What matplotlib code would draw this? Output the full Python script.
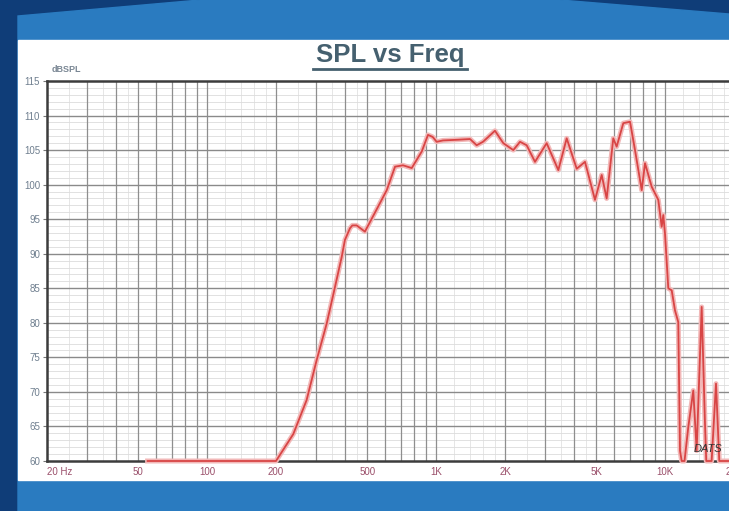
import numpy as np
import matplotlib.pyplot as plt
from matplotlib.patches import Rectangle, Polygon

plt.rcParams['font.family'] = ['Liberation Sans', 'DejaVu Sans']

freq = [55, 200, 238, 272, 301, 333, 362, 387, 400, 421, 431, 450, 489, 558, 609,
        662, 717, 783, 866, 922, 967, 1006, 1072, 1250, 1407, 1504, 1603, 1808,
        1966, 2174, 2326, 2487, 2704, 3041, 3419, 3719, 4113, 4470, 4943, 5288,
        5559, 5941, 6146, 6572, 7030, 7392, 7907, 8174, 8741, 9341, 9667, 9824,
        9994, 10330, 10690, 11050, 11420, 11620, 11820, 12160, 12630, 13280,
        13740, 14450, 14940, 15130, 15970, 16690, 17250, 20000]
spl = [60, 60, 63.9, 68.8, 74.6, 79.9, 85.2, 89.5, 92.0, 93.7, 94.1, 94.1, 93.2,
       96.8, 99.2, 102.6, 102.8, 102.4, 104.8, 107.2, 106.9, 106.2, 106.4, 106.5,
       106.6, 105.7, 106.2, 107.8, 106.0, 105.0, 106.2, 105.7, 103.3, 106.0,
       102.1, 106.7, 102.3, 103.3, 97.8, 101.4, 98.0, 106.7, 105.5, 108.9, 109.1,
       105.0, 99.2, 103.1, 99.7, 97.8, 93.9, 95.6, 92.9, 85.0, 84.7, 81.8, 80.1,
       61.5, 60, 60, 64.9, 70.2, 61.5, 82.3, 65.4, 60, 60, 71.2, 60, 60]

xticks = [20, 50, 100, 200, 500, 1000, 2000, 5000, 10000, 20000]
xlabels = ['20 Hz', '50', '100', '200', '500', '1K', '2K', '5K', '10K', '20K']
yticks = list(range(60, 116, 5))

navy = '#0f3d78'
blue = '#2a7bc0'

fig = plt.figure(figsize=(7.29, 5.11), dpi=100)
fig.patch.set_facecolor(navy)

# background panels in pixel coordinates
bg = fig.add_axes([0, 0, 1, 1])
bg.set_xlim(0, 729)
bg.set_ylim(511, 0)
bg.axis('off')
bg.add_patch(Polygon([(18, 511), (729, 511), (729, 14), (560, 0), (200, 0), (18, 16)],
                     color=blue))
bg.add_patch(Rectangle((18, 40), 711, 440, color='white'))
bg.text(390, 55, 'SPL vs Freq', ha='center', va='center', fontsize=18.5,
        fontweight='bold', color='#45606f')
bg.plot([313, 467], [69, 69], color='#45606f', lw=2)
bg.text(52, 70, 'dBSPL', fontsize=6.5, fontweight='bold', color='#7a8794',
        va='center')

ax = fig.add_axes([47 / 729, 50 / 511, 687 / 729, 380 / 511])
ax.set_xscale('log')
ax.set_xlim(20, 20000)
ax.set_ylim(60, 115)
ax.set_facecolor('white')

# grid: faint fine lines, medium at each multiple, darker at 5 dB
fine = []
mid = []
for dec in [10, 100, 1000, 10000]:
    for k in [1.2, 1.4, 1.6, 1.8, 2.5, 3.5, 4.5]:
        if 20 < k * dec < 20000:
            fine.append(k * dec)
    for k in range(1, 10):
        if 20 < k * dec < 20000:
            mid.append(k * dec)
ax.vlines(fine, 60, 115, color='#e2e2e2', lw=0.6, zorder=0)
ax.vlines(mid, 60, 115, color='#8e8e8e', lw=0.9, zorder=1)
ax.hlines([v for v in range(61, 115) if v % 5], 20, 20000, color='#dcdcdc',
          lw=0.6, zorder=0)
ax.hlines(yticks[1:-1], 20, 20000, color='#8a8a8a', lw=1.0, zorder=1)

ax.plot(freq, spl, color='#f2b8b8', lw=3.6, zorder=3, clip_on=False,
        solid_joinstyle='round')
ax.plot(freq, spl, color='#d84545', lw=1.3, zorder=4, clip_on=False,
        solid_joinstyle='round')

ax.text(0.942, 0.025, 'DATS', transform=ax.transAxes, fontsize=8,
        fontstyle='italic', color='#333333', zorder=5)

for s in ax.spines.values():
    s.set_color('#3c3c3c')
    s.set_linewidth(1.8)

ax.set_xticks(xticks)
ax.set_xticklabels(xlabels)
ax.xaxis.set_minor_locator(plt.NullLocator())
ax.set_yticks(yticks)
ax.tick_params(axis='x', length=0, pad=4, labelsize=7, labelcolor='#9a4f6a')
ax.tick_params(axis='y', length=3, width=0.8, color='#777777', pad=2,
               labelsize=7, labelcolor='#6f7f8f')
ax.get_xticklabels()[0].set_ha('left')

fig.savefig('out.png', dpi=100, facecolor=navy)
